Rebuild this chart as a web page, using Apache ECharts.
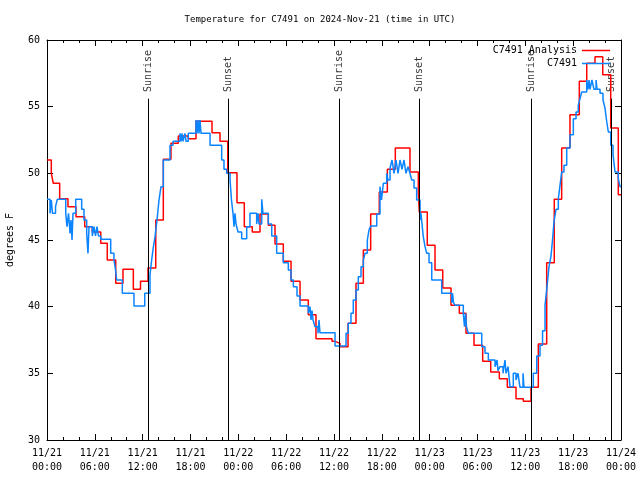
<!DOCTYPE html>
<html>
<head>
<meta charset="utf-8">
<script src="https://cdn.jsdelivr.net/npm/echarts@6/dist/echarts.min.js"></script>
<style>html,body{margin:0;padding:0;background:#fff}#chart{width:640px;height:480px}</style>
</head>
<body>
<div id="chart"></div>
<script>
// Hours since 2024-11-21 00:00 UTC
const redHours = [0,0.54,0.79,1.59,2.63,3.64,4.73,5.68,6.74,7.56,
  8.62,9.53,10.83,11.73,12.67,13.64,14.59,15.55,16.47,17.72,
  18.69,20.70,21.70,22.67,23.83,24.75,25.75,26.72,27.76,28.60,
  29.64,30.61,31.74,32.78,33.74,35.75,36.13,36.75,37.76,38.76,
  39.68,40.60,41.68,42.69,43.69,45.53,46.58,46.70,47.70,48.67,
  49.64,50.68,51.72,52.56,53.56,54.65,55.66,56.74,57.74,58.83,
  59.75,60.71,61.63,62.68,63.63,64.56,65.60,66.77,67.70,68.74,
  69.71,70.71,71.66,72];
const redTemps = [51.0,50.0,49.25,48.1,47.5,46.75,46.0,45.6,44.75,43.5,
  41.75,42.8,41.3,41.9,42.9,46.5,51.05,52.25,52.8,52.6,
  53.9,53.05,52.4,50.05,47.8,46.0,45.6,46.95,46.1,44.7,
  43.4,41.9,40.5,39.4,37.6,37.4,37.25,37.0,38.75,41.75,
  44.25,46.95,48.6,50.3,51.9,50.1,48.6,47.1,44.6,42.75,
  41.4,40.1,39.5,38.0,37.1,35.9,35.1,34.6,33.95,33.1,
  32.9,33.95,37.2,43.3,48.05,51.9,54.4,56.9,58.25,58.75,
  57.4,53.4,48.4,48.4];

const blueHours = [0,0.38,0.54,0.69,1.07,1.29,2.35,2.51,2.70,2.89,
  3.01,3.14,3.26,3.60,4.35,4.64,4.98,5.14,5.27,5.68,
  5.90,6.08,6.27,6.46,6.74,7.99,8.40,8.59,8.74,9.45,
  10.91,12.26,12.92,13.13,13.30,13.55,13.80,14.05,14.30,14.59,
  15.43,15.81,16.68,16.81,16.93,17.06,17.31,17.44,17.72,18.69,
  18.82,18.94,19.07,19.19,19.32,20.45,21.91,22.20,22.54,22.96,
  23.14,23.33,23.46,23.58,23.71,23.96,24.42,25.05,25.46,26.30,
  26.47,26.59,26.93,27.09,27.76,28.19,28.81,29.64,30.27,30.61,
  30.90,31.36,31.74,32.78,32.99,33.12,33.24,33.37,33.62,33.99,
  34.12,34.24,36.13,37.51,37.79,38.13,38.42,38.76,39.05,39.39,
  39.68,39.89,40.18,40.39,40.60,41.36,41.77,41.96,42.19,42.61,
  42.77,43.03,43.28,43.53,43.78,44.03,44.28,44.53,44.78,45.03,
  45.28,45.53,45.75,46.04,46.37,46.79,46.91,47.04,47.20,47.42,
  47.63,47.92,48.26,49.51,50.77,50.87,50.99,51.18,52.22,52.37,
  52.50,52.62,52.85,54.53,54.94,55.36,56.20,56.45,56.57,56.82,
  57.20,57.45,57.58,57.83,58.08,58.49,58.83,59.08,59.33,59.71,
  59.83,61.00,61.43,61.84,62.16,62.47,62.72,62.97,63.22,63.41,
  63.60,63.85,64.14,64.35,64.56,64.85,65.19,65.60,66.02,66.36,
  66.64,66.86,67.07,67.70,67.86,67.99,68.11,68.36,68.61,68.87,
  68.99,69.37,69.74,69.99,70.18,70.41,70.71,71.00,71.25,71.66,
  71.88,72];
const blueTemps = [48.05,47.0,48.0,47.0,47.5,48.05,47.0,46.0,47.0,45.5,
  46.5,45.0,47.0,48.05,47.3,46.5,45.5,44.0,46.0,45.3,
  46.0,45.3,46.0,45.3,45.05,44.0,43.5,42.8,42.0,41.0,
  40.05,41.0,42.4,43.5,44.3,45.25,46.5,48.0,49.0,51.0,
  52.1,52.4,53.0,52.4,53.0,52.4,53.0,52.4,53.0,54.0,
  53.0,54.0,53.0,54.0,53.0,52.1,51.0,50.3,50.0,49.5,
  48.0,47.0,46.0,47.0,46.2,45.6,45.1,46.0,47.0,46.2,
  47.0,46.2,48.05,47.0,46.2,45.3,44.0,43.3,42.75,42.0,
  41.5,40.8,40.05,39.5,40.0,39.0,39.7,39.0,38.5,38.0,
  39.0,38.05,37.05,38.0,38.75,39.5,40.5,41.25,42.25,43.0,
  43.5,44.0,45.0,45.75,46.05,46.95,49.0,48.0,49.25,50.0,
  49.5,50.4,51.0,50.0,51.0,50.0,51.0,50.3,51.0,50.0,
  50.5,50.0,49.5,48.9,48.0,46.5,47.0,46.2,45.25,44.5,
  44.0,43.3,42.0,41.0,40.3,41.0,40.3,40.1,39.5,38.5,
  39.5,38.5,38.0,37.0,36.5,36.0,35.5,36.0,35.2,35.5,
  35.0,36.0,35.0,35.5,34.0,35.0,34.5,35.0,33.95,35.0,
  33.95,35.0,36.3,37.1,38.2,40.1,41.5,43.0,43.8,45.0,
  46.4,47.3,48.1,49.1,50.1,50.6,51.9,52.9,54.1,54.6,
  55.1,55.6,56.1,57.0,56.3,57.0,56.3,57.0,56.3,57.0,
  56.3,56.0,55.5,54.9,54.0,53.1,52.1,51.4,50.1,49.6,
  49.0,49.0];

const sunHours = [12.71, 22.75, 36.67, 46.71, 60.80, 70.75];
const sunNames = ['Sunrise','Sunset','Sunrise','Sunset','Sunrise','Sunset'];
const sunLineTop = 55.6;
const sunLabelBase = 56.1;

const titleText = 'Temperature for C7491 on 2024-Nov-21 (time in UTC)';
const redName = 'C7491 Analysis';
const blueName = 'C7491';
const yTicks = {min: 30, max: 60, step: 5};
const xRange = {min: 0, max: 72, step: 6};

const FONT = 'DejaVu Sans Mono';
const pad = n => (n < 10 ? '0' : '') + n;
function fmtX(v) {
  const day = 21 + Math.floor(v / 24);
  const hh = Math.round(v % 24);
  return '11/' + day + '\n' + pad(hh) + ':00';
}

const redData = redHours.map((h, i) => [h, redTemps[i]]);
const blueData = blueHours.map((h, i) => [h, blueTemps[i]]);

const chart = echarts.init(document.getElementById('chart'), null, {renderer: 'canvas'});
const axisCommon = {
  axisLine: {show: true, onZero: false, lineStyle: {color: '#000', width: 1}},
  axisTick: {show: true, inside: true, length: 6, lineStyle: {color: '#000'}},
  splitLine: {show: false}
};
chart.setOption({
  animation: false,
  backgroundColor: '#fff',
  title: {
    text: titleText, left: 'center', top: 15, padding: 0,
    textStyle: {fontFamily: FONT, fontSize: 9, fontWeight: 'normal', color: '#000'}
  },
  legend: {
    orient: 'vertical', right: 30, top: 45, align: 'right', padding: 0,
    itemWidth: 28, itemHeight: 1.5, itemGap: 2, icon: 'rect',
    data: [redName, blueName],
    textStyle: {fontFamily: FONT, fontSize: 10, color: '#000', lineHeight: 11}
  },
  grid: {left: 47, right: 19, top: 40, bottom: 40, containLabel: false, outerBoundsMode: 'none'},
  xAxis: [
    Object.assign({}, axisCommon, {
      type: 'value', position: 'bottom', min: xRange.min, max: xRange.max, interval: xRange.step,
      minorTick: {show: true, splitNumber: 3, length: 3, lineStyle: {color: '#000'}},
      axisLabel: {formatter: fmtX, fontFamily: FONT, fontSize: 10, color: '#000', lineHeight: 14, margin: 6}
    }),
    Object.assign({}, axisCommon, {
      type: 'value', position: 'top', min: xRange.min, max: xRange.max, interval: xRange.step,
      minorTick: {show: true, splitNumber: 3, length: 3, lineStyle: {color: '#000'}},
      axisLabel: {show: false}
    })
  ],
  yAxis: [
    Object.assign({}, axisCommon, {
      type: 'value', position: 'left', min: yTicks.min, max: yTicks.max, interval: yTicks.step,
      name: 'degrees F', nameLocation: 'middle', nameRotate: 90, nameGap: 32,
      nameTextStyle: {fontFamily: FONT, fontSize: 10, color: '#000'},
      axisLabel: {fontFamily: FONT, fontSize: 10, color: '#000', margin: 7}
    }),
    Object.assign({}, axisCommon, {
      type: 'value', position: 'right', min: yTicks.min, max: yTicks.max, interval: yTicks.step,
      axisLabel: {show: false}
    })
  ],
  series: [
    {
      name: 'sun', type: 'scatter', symbolSize: 0, silent: true, z: 1,
      data: sunHours.map((h, i) => ({value: [h, sunLabelBase], name: sunNames[i]})),
      label: {
        show: true, position: 'inside', rotate: 90, align: 'left', verticalAlign: 'middle',
        formatter: p => p.name, fontFamily: FONT, fontSize: 10, color: '#000'
      },
      markLine: {
        silent: true, symbol: ['none', 'none'], animation: false,
        label: {show: false},
        lineStyle: {color: '#000', width: 1, type: 'solid'},
        emphasis: {disabled: true},
        data: sunHours.map(h => [{coord: [h, yTicks.min]}, {coord: [h, sunLineTop]}])
      }
    },
    {
      name: redName, type: 'line', step: 'end', data: redData,
      showSymbol: false, symbol: 'none', z: 3,
      color: '#ff0000', lineStyle: {color: '#ff0000', width: 1.5}
    },
    {
      name: blueName, type: 'line', step: 'end', data: blueData,
      showSymbol: false, symbol: 'none', z: 4,
      color: '#0a84ff', lineStyle: {color: '#0a84ff', width: 1.5}
    }
  ]
});
</script>
</body>
</html>
